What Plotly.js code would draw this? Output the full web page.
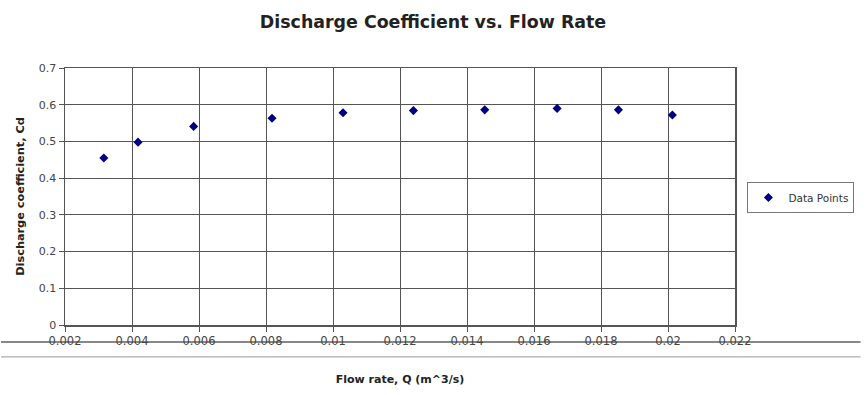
<!DOCTYPE html>
<html>
<head>
<meta charset="utf-8">
<script src="https://cdn.plot.ly/plotly-3.0.1.min.js"></script>
<style>html,body{margin:0;padding:0;background:#fff;} #chart{width:866px;height:395px;}</style>
</head>
<body>
<div id="chart"></div>
<script>
const flowRate = [0.00316, 0.00418, 0.00584, 0.00818, 0.0103, 0.0124, 0.01453, 0.01669, 0.01852, 0.02013];
const dischargeCoeff = [0.455, 0.498, 0.541, 0.563, 0.578, 0.584, 0.586, 0.590, 0.586, 0.572];
const seriesName = 'Data Points';
const chartTitle = 'Discharge Coefficient vs. Flow Rate';
const xTitle = 'Flow rate, Q (m^3/s)';
const yTitle = 'Discharge coefficient, Cd';

const W = 866, H = 395;
const m = {l: 64.5, r: 126.5, t: 67.5, b: 69.5};
const pw = W - m.l - m.r, ph = H - m.t - m.b;
const px = v => (v - m.l) / pw;
const py = v => (H - m.b - v) / ph;

const trace = {
  x: flowRate, y: dischargeCoeff, type: 'scatter', mode: 'markers', name: seriesName,
  marker: {symbol: 'diamond', size: 7, color: '#000080'}
};

const fnt = 'DejaVu Sans, Verdana, sans-serif';
const layout = {
  width: W, height: H,
  margin: m,
  paper_bgcolor: '#fff', plot_bgcolor: '#fff',
  showlegend: true,
  title: {text: '<b>' + chartTitle + '</b>', font: {family: fnt, size: 17.4, color: '#222'}, x: 0.5, xanchor: 'center', y: 1 - 22 / H, yanchor: 'middle'},
  xaxis: {
    range: [0.002, 0.022], dtick: 0.002, tick0: 0.002, tickmode: 'linear',
    showgrid: true, gridcolor: '#555', gridwidth: 1,
    showline: true, linecolor: '#555', linewidth: 1.5, mirror: true,
    ticks: 'outside', ticklen: 5, tickcolor: '#555',
    tickfont: {family: fnt, size: 11.5, color: '#444'},
    zeroline: false,
    title: {text: '<b>' + xTitle + '</b>', font: {family: fnt, size: 11, color: '#222'}, standoff: 28}
  },
  yaxis: {
    range: [0, 0.7], dtick: 0.1, tick0: 0, tickmode: 'linear',
    showgrid: true, gridcolor: '#555', gridwidth: 1,
    showline: true, linecolor: '#555', linewidth: 1.5, mirror: true,
    ticks: 'outside', ticklen: 5, tickcolor: '#555',
    tickfont: {family: fnt, size: 11, color: '#444'},
    zeroline: false,
    title: {text: '<b>' + yTitle + '</b>', font: {family: fnt, size: 11.3, color: '#222'}, standoff: 12}
  },
  legend: {
    x: px(752), y: py(182), xanchor: 'left', yanchor: 'top',
    bordercolor: '#777', borderwidth: 1, bgcolor: '#fff',
    font: {family: fnt, size: 10.5, color: '#333'},
    itemwidth: 30, tracegroupgap: 0
  },
  shapes: [
    {type: 'line', xref: 'paper', yref: 'paper', x0: px(0), x1: px(W), y0: py(342.5), y1: py(342.5), line: {color: '#888', width: 2}, layer: 'below'},
    {type: 'line', xref: 'paper', yref: 'paper', x0: px(0), x1: px(W), y0: py(357.5), y1: py(357.5), line: {color: '#999', width: 1}, layer: 'below'}
  ]
};

Plotly.newPlot('chart', [trace], layout, {displayModeBar: false, staticPlot: true});
</script>
</body>
</html>
